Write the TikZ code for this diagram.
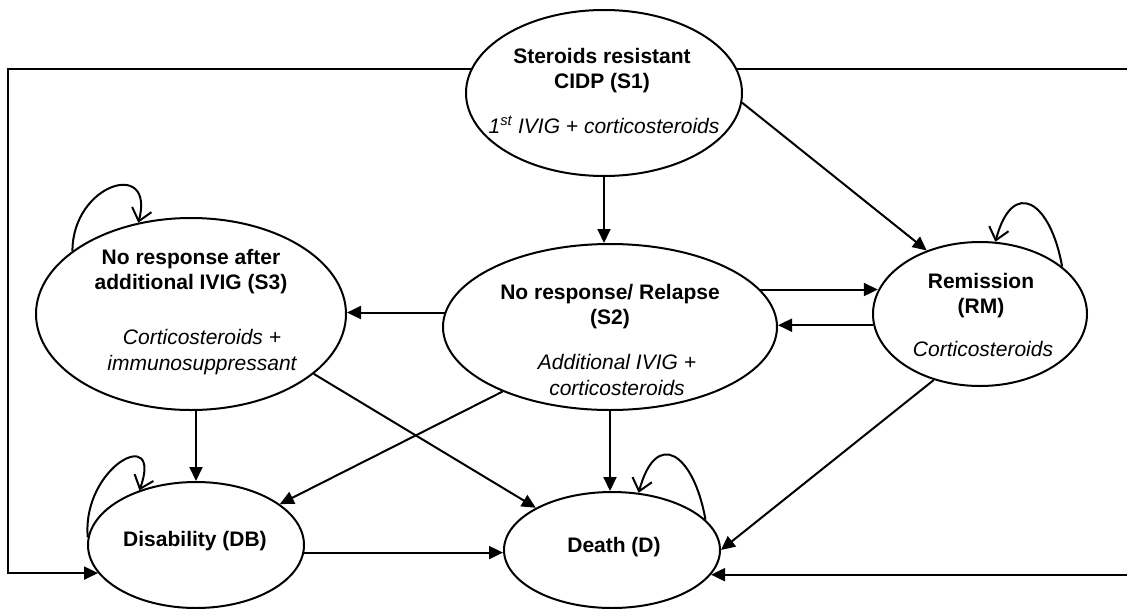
\documentclass[tikz,border=0pt]{standalone}
\usepackage{fontspec}
\setmainfont{Liberation Sans}
\usetikzlibrary{arrows.meta,shapes.geometric}

\begin{document}
\begin{tikzpicture}[x=1pt, y=-1pt, line width=2pt,
    state/.style={draw, ellipse, inner sep=0pt},
    lbl/.style={align=center, font=\fontsize{21}{25}\selectfont\bfseries},
    drug/.style={align=center, font=\fontsize{21}{26}\selectfont\itshape},
    flow/.style={-{Triangle[length=14pt, width=13pt]}},
    selfloop/.style={-{Straight Barb[length=12pt, width=20pt]}}]
    \useasboundingbox (0,0) rectangle (1127,608);

    \node[state, minimum width=276pt, minimum height=166pt] (s1) at (604,93) {};
    \node[state, minimum width=310pt, minimum height=192pt] (s3) at (191,314) {};
    \node[state, minimum width=334pt, minimum height=166pt] (s2) at (610,327) {};
    \node[state, minimum width=214pt, minimum height=144pt] (rm) at (980,314) {};
    \node[state, minimum width=216pt, minimum height=126pt] (db) at (196,545) {};
    \node[state, minimum width=216pt, minimum height=116pt] (d) at (612,550) {};

    \node[lbl] (s1name) at (602,71) {Steroids resistant\\CIDP (S1)};
    \node[drug] (s1drug) at (604,125) {1\textsuperscript{st} IVIG + corticosteroids};
    \node[lbl] (s3name) at (191,272) {No response after\\additional IVIG (S3)};
    \node[drug] (s3drug) at (202,352) {Corticosteroids +\\immunosuppressant};
    \node[lbl] (s2name) at (610,307) {No response/ Relapse\\(S2)};
    \node[drug] (s2drug) at (617,375) {Additional IVIG +\\corticosteroids};
    \node[lbl] (rmname) at (981,296) {Remission\\(RM)};
    \node[drug] (rmdrug) at (983,349) {Corticosteroids};
    \node[lbl] (dbname) at (195,541) {Disability (DB)};
    \node[lbl] (dname) at (614,547) {Death (D)};

    \draw[flow] (s1.south) -- (s1.south |- s2.north);
    \draw[flow] (s1.-4) -- (rm.130);
    \draw[flow] (s2.14) -- (rm.167 |- s2.14);
    \draw[flow] (rm.186) -- (s2.east |- rm.186);
    \draw[flow] (s2.175) -- (s3.east |- s2.175);
    \draw[flow] (db.north |- s3.south) -- (db.north);
    \draw[flow] (s3.-26) -- (d.151);
    \draw[flow] (s2.211) -- (db.26);
    \draw[flow] (s2.south) -- (s2.south |- d.north);
    \draw[flow] (rm.235) -- (d.east);
    \draw[flow] (db.-4) -- (d.west |- db.-4);

    \coordinate (ledge) at (8,300);
    \coordinate (redge) at (1127,300);
    \draw[flow] (s1.170) -| (ledge) |- (db.196);
    \draw (s1.10) -- (s1.10 -| redge);
    \draw[flow] (d.-14 -| redge) -- (d.-14);

    \draw[selfloop] (s3.152) to[out=90, in=75, looseness=2.4] (s3.120);
    \draw[selfloop] (rm.30) to[out=100, in=75, looseness=2.4] (rm.78);
    \draw[selfloop] (db.176) to[out=95, in=70, looseness=2.6] (db.136);
    \draw[selfloop] (d.18) to[out=100, in=75, looseness=2.4] (d.65);
\end{tikzpicture}
\end{document}
